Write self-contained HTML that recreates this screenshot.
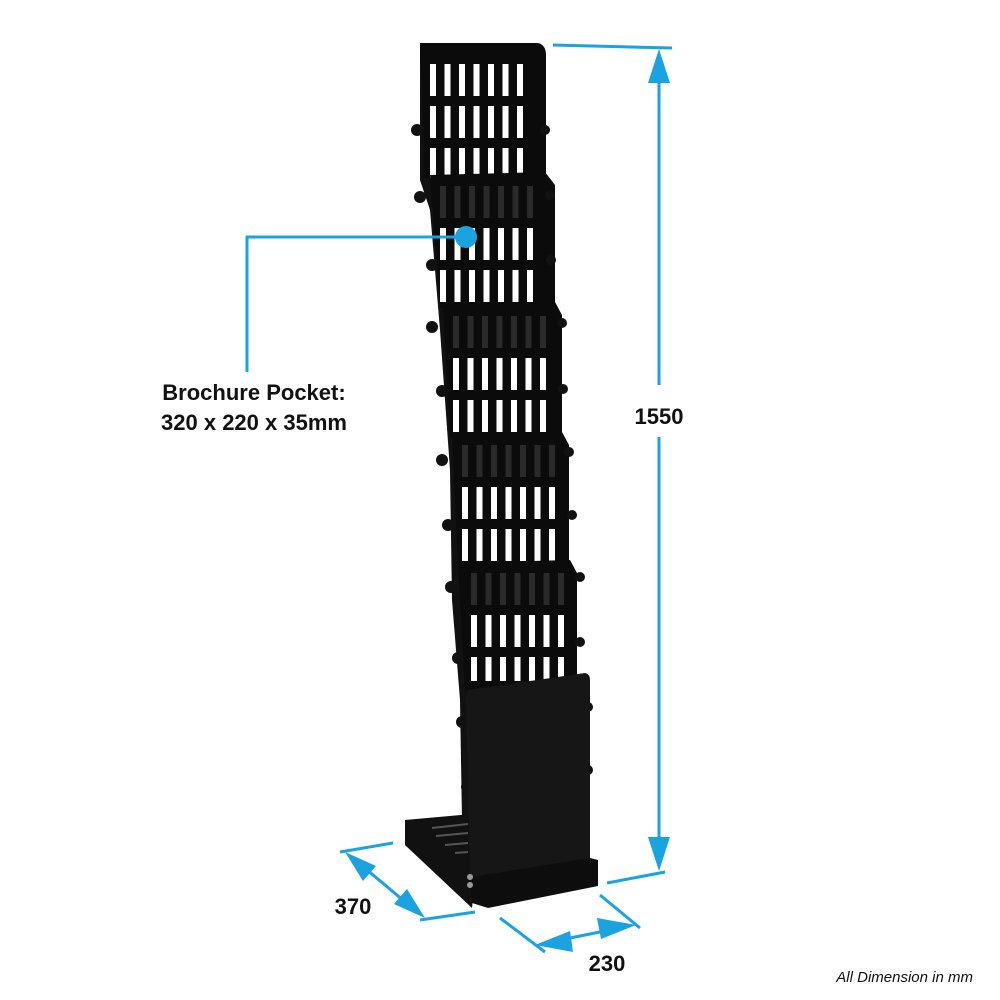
<!DOCTYPE html>
<html><head><meta charset="utf-8"><style>
html,body{margin:0;padding:0;background:#fff;width:1000px;height:1000px;overflow:hidden}
svg{display:block}
text{font-family:"Liberation Sans",Arial,sans-serif}
</style></head><body>
<svg width="1000" height="1000" viewBox="0 0 1000 1000" xmlns="http://www.w3.org/2000/svg">
<defs>
<pattern id="sl" patternUnits="userSpaceOnUse" width="14.5" height="42">
<rect x="4" y="4" width="6" height="32" fill="#fff"/>
</pattern>
<pattern id="sd" patternUnits="userSpaceOnUse" width="14.5" height="42">
<rect x="4" y="4" width="6" height="32" fill="#2a2a2a"/>
</pattern>
</defs>
<!-- side rail -->
<path d="M420 45 L432 45 L432 175 L445 200 L445 305 L455 330 L455 440 L462 460 L462 565 L468 590 L468 690 L474 820 L462 820 L460 700 L452 600 L450 470 L440 330 L430 210 L420 180 Z" fill="#111"/>
<!-- panel 1 -->
<path d="M420 43 L538 43 Q546 45 546 55 L546 178 L425 178 Z" fill="#0b0b0b"/>
<g transform="translate(426,60)"><rect width="102" height="118" fill="url(#sl)"/></g>
<!-- panel 2 -->
<path d="M430 175 L545 172 L555 185 L555 308 L440 308 Z" fill="#0b0b0b"/>
<g transform="translate(436,182)"><rect width="102" height="42" fill="url(#sd)"/></g>
<g transform="translate(436,224)"><rect width="102" height="84" fill="url(#sl)"/></g>
<!-- panel 3 -->
<path d="M443 305 L555 302 L562 315 L562 438 L450 438 Z" fill="#0b0b0b"/>
<g transform="translate(449,312)"><rect width="102" height="42" fill="url(#sd)"/></g>
<g transform="translate(449,354)"><rect width="102" height="84" fill="url(#sl)"/></g>
<!-- panel 4 -->
<path d="M452 435 L562 432 L569 445 L569 565 L458 565 Z" fill="#0b0b0b"/>
<g transform="translate(458,441)"><rect width="102" height="42" fill="url(#sd)"/></g>
<g transform="translate(458,483)"><rect width="102" height="84" fill="url(#sl)"/></g>
<!-- panel 5 -->
<path d="M458 563 L570 560 L577 573 L577 690 L465 690 Z" fill="#0b0b0b"/>
<g transform="translate(467,569)"><rect width="102" height="42" fill="url(#sd)"/></g>
<g transform="translate(467,611)"><rect width="102" height="70" fill="url(#sl)"/></g>
<!-- knobs -->
<g fill="#111">
<circle cx="417" cy="130" r="6"/><circle cx="545" cy="130" r="5"/>
<circle cx="420" cy="197" r="6"/><circle cx="550" cy="195" r="5"/>
<circle cx="432" cy="265" r="6"/><circle cx="551" cy="260" r="5"/>
<circle cx="432" cy="327" r="6"/><circle cx="562" cy="323" r="5"/>
<circle cx="442" cy="391" r="6"/><circle cx="563" cy="389" r="5"/>
<circle cx="442" cy="460" r="6"/><circle cx="569" cy="452" r="5"/>
<circle cx="448" cy="525" r="6"/><circle cx="572" cy="515" r="5"/>
<circle cx="451" cy="587" r="6"/><circle cx="580" cy="577" r="5"/>
<circle cx="458" cy="658" r="6"/><circle cx="580" cy="642" r="5"/>
<circle cx="462" cy="722" r="6"/><circle cx="588" cy="707" r="5"/>
<circle cx="467" cy="787" r="6"/><circle cx="588" cy="770" r="5"/>
</g>
<!-- foot -->
<path d="M405 820 L472 814 L477 860 L472 908 L405 845 Z" fill="#111"/>
<g stroke="#555" stroke-width="2"><line x1="432" y1="828" x2="468" y2="824"/><line x1="436" y1="836" x2="468" y2="833"/><line x1="445" y1="845" x2="468" y2="843"/><line x1="455" y1="853" x2="468" y2="852"/></g>
<!-- base box -->
<path d="M468 690 L585 673 Q590 674 590 680 L590 860 L478 882 L470 880 L466 700 Z" fill="#161616"/>
<path d="M470 877 L590 858 L598 860 L598 886 L488 908 L472 903 Z" fill="#0d0d0d"/>
<circle cx="470" cy="877" r="3" fill="#999"/><circle cx="470" cy="885" r="3" fill="#999"/>
<!-- callout -->
<g stroke="#1aa3e0" stroke-width="3" fill="none">
<polyline points="466,237 247,237 247,372"/>
</g>
<circle cx="466" cy="237" r="11" fill="#1aa3e0"/>
<text x="254" y="400" font-size="22" font-weight="bold" text-anchor="middle" fill="#111">Brochure Pocket:</text>
<text x="254" y="430" font-size="22" font-weight="bold" text-anchor="middle" fill="#111">320 x 220 x 35mm</text>
<!-- 1550 -->
<g stroke="#1aa3e0" stroke-width="3" fill="none">
<line x1="553" y1="45" x2="672" y2="48"/>
<line x1="607" y1="883" x2="665" y2="872"/>
<line x1="659" y1="60" x2="659" y2="385"/>
<line x1="659" y1="437" x2="659" y2="860"/>
</g>
<g fill="#1aa3e0">
<polygon points="659,49 648,83 670,83"/>
<polygon points="659,871 648,837 670,837"/>
</g>
<text x="659" y="424" font-size="22" font-weight="bold" text-anchor="middle" fill="#111">1550</text>
<!-- 370 -->
<g stroke="#1aa3e0" stroke-width="3" fill="none">
<line x1="340" y1="852" x2="393" y2="843"/>
<line x1="420" y1="920" x2="475" y2="912"/>
<line x1="360" y1="864" x2="410" y2="906"/>
</g>
<g fill="#1aa3e0">
<polygon points="345,852 376,866 363,881"/>
<polygon points="425,918 394,904 407,889"/>
</g>
<text x="353" y="914" font-size="22" font-weight="bold" text-anchor="middle" fill="#111">370</text>
<!-- 230 -->
<g stroke="#1aa3e0" stroke-width="3" fill="none">
<line x1="500" y1="918" x2="545" y2="952"/>
<line x1="600" y1="895" x2="640" y2="928"/>
<line x1="555" y1="941" x2="615" y2="929"/>
</g>
<g fill="#1aa3e0">
<polygon points="535,945 570,931 573,952"/>
<polygon points="636,925 601,939 597,918"/>
</g>
<text x="607" y="971" font-size="22" font-weight="bold" text-anchor="middle" fill="#111">230</text>
<text x="973" y="982" font-size="15" font-style="italic" text-anchor="end" fill="#111">All Dimension in mm</text>
</svg>
</body></html>
